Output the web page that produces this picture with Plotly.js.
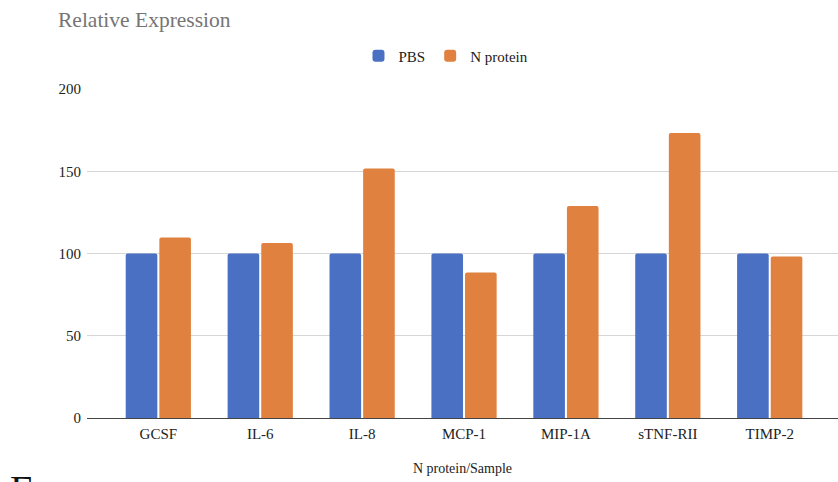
<!DOCTYPE html>
<html>
<head>
<meta charset="utf-8">
<script src="https://cdn.plot.ly/plotly-3.0.1.min.js"></script>
<style>html,body{margin:0;padding:0;background:#fff;}#chart{width:838px;height:482px;}</style>
</head>
<body>
<div id="chart"></div>
<script>
const categories = ["GCSF", "IL-6", "IL-8", "MCP-1", "MIP-1A", "sTNF-RII", "TIMP-2"];
const pbsValues = [100, 100, 100, 100, 100, 100, 100];
const nProteinValues = [109.7, 106.4, 151.6, 88.5, 128.9, 173.2, 98.2];
const yTicks = [0, 50, 100, 150, 200];

const serif = "Liberation Serif, Times New Roman, serif";

const traces = [
  {type: "bar", name: "PBS", x: categories, y: pbsValues,
   marker: {color: "#4a70c3", cornerradius: 2}, hoverinfo: "x+y"},
  {type: "bar", name: "N protein", x: categories, y: nProteinValues,
   marker: {color: "#e0813f", cornerradius: 2}, hoverinfo: "x+y"}
];

const layout = {
  width: 838, height: 482,
  margin: {l: 87, r: 0, t: 89, b: 63.5, pad: 0},
  paper_bgcolor: "#ffffff", plot_bgcolor: "#ffffff",
  font: {family: serif, size: 15, color: "#222"},
  title: {text: "Relative Expression", x: 58/838, xanchor: "left", xref: "container",
          y: 1 - 19/482, yanchor: "middle", yref: "container",
          font: {family: serif, size: 21.5, color: "#757575"}},
  barmode: "group", bargap: 0.34, bargroupgap: 0.06,
  showlegend: true,
  legend: {orientation: "h", x: 0.478, xanchor: "center", y: 1 + 33/329.5, yanchor: "middle",
           font: {family: serif, size: 15, color: "#222"}, itemwidth: 30, traceorder: "normal"},
  xaxis: {type: "category", range: [-0.7, 6.67], showgrid: false, ticks: "", showline: false,
          zeroline: false, ticklabelstandoff: 5, tickfont: {family: serif, size: 15, color: "#222"},
          title: {text: "N protein/Sample", standoff: 22, font: {family: serif, size: 14, color: "#222"}}},
  yaxis: {range: [0, 200], tickvals: yTicks, ticktext: yTicks.map(String), showgrid: true,
          gridcolor: "#d6d6d6", gridwidth: 1, zeroline: true, zerolinecolor: "#444", zerolinewidth: 1,
          ticks: "", showline: false, ticklabelstandoff: 5, tickfont: {family: serif, size: 15, color: "#222"}},
  annotations: [
    {text: "E", xref: "paper", yref: "paper", x: -87/751 + 8/751, xanchor: "left",
     y: -(466 - 418.5)/329.5, yanchor: "top", showarrow: false,
     font: {family: serif, size: 40, color: "#111"}}
  ]
};

Plotly.newPlot("chart", traces, layout, {displayModeBar: false, staticPlot: true});
</script>
</body>
</html>
